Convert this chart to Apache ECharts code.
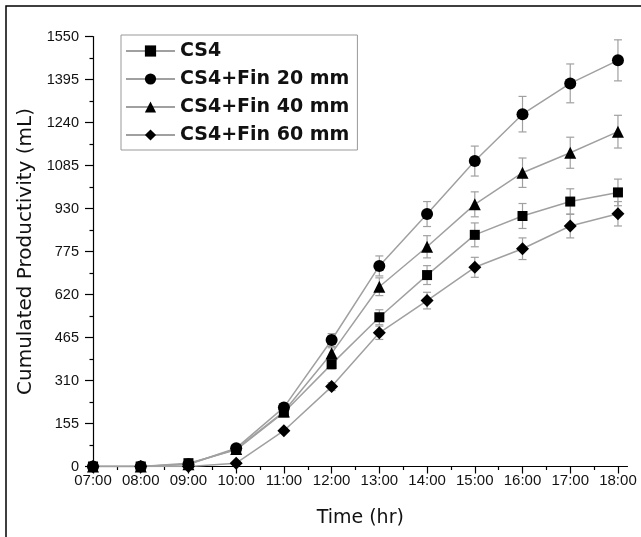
<!DOCTYPE html>
<html>
<head>
<meta charset="utf-8">
<script src="https://cdn.jsdelivr.net/npm/echarts@6/dist/echarts.min.js"></script>
<style>html,body{margin:0;padding:0;background:#fff}#c{width:641px;height:537px}</style>
</head>
<body>
<div id="c"></div>
<script>
const times = ['07:00','08:00','09:00','10:00','11:00','12:00','13:00','14:00','15:00','16:00','17:00','18:00'];
const yTicks = [0,155,310,465,620,775,930,1085,1240,1395,1550];
const seriesNames = ['CS4','CS4+Fin 20 mm','CS4+Fin 40 mm','CS4+Fin 60 mm'];
const cs4    = [0,0,12,60,195,369,538,690,835,903,955,988];
const fin20  = [0,0,8,66,213,456,723,910,1101,1270,1381,1464];
const fin40  = [0,0,8,63,198,408,648,792,945,1059,1131,1207];
const fin60  = [0,0,0,12,129,288,482,598,718,785,867,911];
const cs4Err   = [0,0,1,3,10,18,27,34,43,45,46,48];
const fin20Err = [0,0,1,3,11,23,36,45,54,64,70,74];
const fin40Err = [0,0,1,3,10,20,32,40,45,53,56,59];
const fin60Err = [0,0,0,1,6,14,24,30,36,39,43,44];

const values = [cs4, fin20, fin40, fin60];
const errs = [cs4Err, fin20Err, fin40Err, fin60Err];
const symbols = ['rect','circle','triangle','diamond'];
const sizes = [10,12,12,13];

const chart = echarts.init(document.getElementById('c'), null, {renderer:'canvas'});
const series = [];
values.forEach((vals, k) => {
  const d = [];
  vals.forEach((v, i) => { if (errs[k][i] > 0) d.push([i, v - errs[k][i], v + errs[k][i]]); });
  series.push({
    type: 'custom', name: 'err' + k, xAxisIndex: 0, yAxisIndex: 0, z: 2, silent: true,
    data: d,
    renderItem: function (params, api) {
      const x = api.value(0);
      const p1 = api.coord([x, api.value(2)]);
      const p2 = api.coord([x, api.value(1)]);
      const w = 4;
      const st = {stroke: '#a0a0a0', lineWidth: 1.2};
      return {type: 'group', children: [
        {type: 'line', shape: {x1: p1[0], y1: p1[1], x2: p2[0], y2: p2[1]}, style: st},
        {type: 'line', shape: {x1: p1[0]-w, y1: p1[1], x2: p1[0]+w, y2: p1[1]}, style: st},
        {type: 'line', shape: {x1: p2[0]-w, y1: p2[1], x2: p2[0]+w, y2: p2[1]}, style: st}
      ]};
    }
  });
});
values.forEach((vals, k) => {
  series.push({
    type: 'line', name: seriesNames[k], z: 3,
    data: vals.map((v, i) => [i, v]),
    symbol: symbols[k], symbolSize: sizes[k], showAllSymbol: true,
    lineStyle: {color: '#a0a0a0', width: 1.5},
    itemStyle: {color: '#000', borderWidth: 0},
    emphasis: {disabled: true},
    animation: false
  });
});

const option = {
  backgroundColor: '#fff',
  animation: false,
  grid: {left: 93, right: 13.5, top: 36.5, bottom: 70.5},
  graphic: [{type: 'rect', shape: {x: 6, y: 6, width: 700, height: 700}, style: {fill: null, stroke: '#000', lineWidth: 1.5}, z: 10}],
  legend: {
    data: seriesNames, orient: 'vertical', left: 121, top: 35,
    padding: [5, 8, 4, 4], itemGap: 6, itemWidth: 49, itemHeight: 14,
    borderColor: '#999', borderWidth: 1,
    textStyle: {fontFamily: 'DejaVu Sans', fontWeight: 'bold', fontSize: 19, color: '#111', lineHeight: 22},
    selectedMode: false
  },
  xAxis: [{
    type: 'value', min: 0, max: 11.2, position: 'bottom',
    name: 'Time (hr)', nameLocation: 'middle', nameGap: 42,
    nameTextStyle: {fontFamily: 'DejaVu Sans', fontSize: 19, color: '#111'},
    axisLine: {show: true, lineStyle: {color: '#000', width: 1.2}},
    axisTick: {show: true, length: 7, customValues: times.map((t, i) => i), lineStyle: {color: '#000', width: 1.2}},
    axisLabel: {customValues: times.map((t, i) => i), formatter: v => times[Math.round(v)] || '', margin: 7,
      fontFamily: 'Liberation Sans', fontSize: 15, color: '#111'},
    splitLine: {show: false}
  }, {
    type: 'value', min: 0, max: 11.2, position: 'bottom',
    axisLine: {show: false},
    axisTick: {show: true, length: 3.5, customValues: times.slice(1).map((t, i) => i + 0.5), lineStyle: {color: '#000', width: 1.2}},
    axisLabel: {show: false},
    splitLine: {show: false}
  }],
  yAxis: {
    type: 'value', min: 0, max: 1550, interval: 155,
    name: 'Cumulated Productivity (mL)', nameLocation: 'middle', nameGap: 56,
    nameTextStyle: {fontFamily: 'DejaVu Sans', fontSize: 20, color: '#111'},
    axisLine: {show: true, lineStyle: {color: '#000', width: 1.2}},
    axisTick: {show: true, length: 8, lineStyle: {color: '#000', width: 1.2}},
    minorTick: {show: true, splitNumber: 2, length: 3.5, lineStyle: {color: '#000', width: 1.2}},
    axisLabel: {margin: 14, fontFamily: 'Liberation Sans', fontSize: 14.5, color: '#111',
      formatter: v => String(yTicks[Math.round(v / 155)])},
    splitLine: {show: false}, minorSplitLine: {show: false}
  },
  series: series
};
chart.setOption(option);
</script>
</body>
</html>
